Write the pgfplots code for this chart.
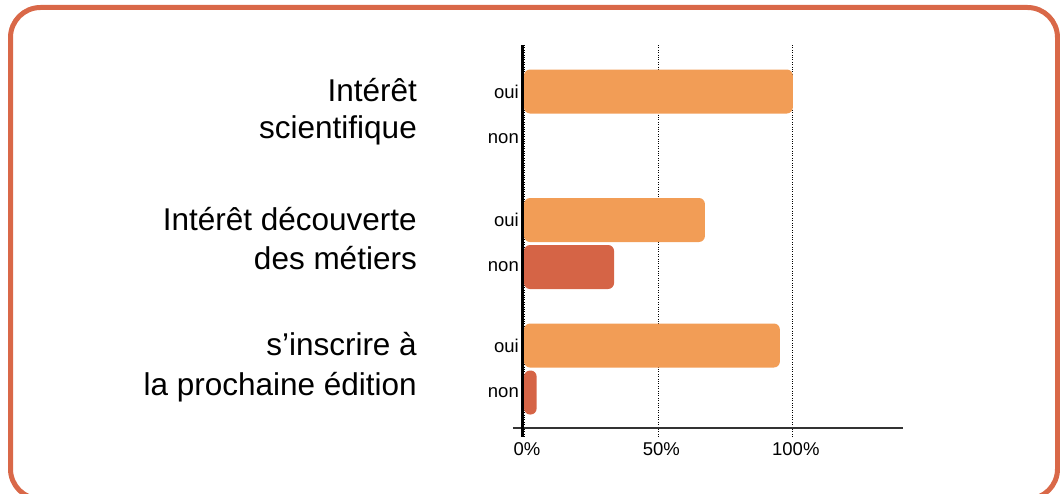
\documentclass[border=0pt]{standalone}
\usepackage{fontspec}
\setmainfont{Liberation Sans}
\usepackage{pgfplots}
\pgfplotsset{compat=1.18}
\definecolor{oui}{HTML}{F29D56}
\definecolor{non}{HTML}{D56446}
\definecolor{frame}{HTML}{D96848}
\begin{document}
\begin{tikzpicture}[x=1pt,y=1pt]
\useasboundingbox (0,0) rectangle (1060,493);
\draw[frame, line width=5pt, rounded corners=30pt] (10.5,485.5) rectangle (1057.5,-6);
\begin{axis}[
  at={(524pt,55pt)}, anchor=south west, scale only axis,
  width=379pt, height=393pt,
  xmin=0, xmax=141, ymin=45, ymax=438, y dir=reverse,
  axis line style={draw=none},
  xtick={0,50,100}, xticklabels={0\%,50\%,100\%},
  ytick={91.5,138.5,220,267,345.5,392.5},
  yticklabels={oui,non,oui,non,oui,non},
  major tick length=0pt,
  xmajorgrids, grid style={black, dotted, line width=0.9pt},
  tick label style={font=\fontsize{18.5}{21}\selectfont},
  yticklabel style={inner sep=0pt, xshift=-5pt},
  xticklabel style={inner sep=4pt, xshift=3pt},
  clip=false,
]
\addplot[xbar, bar width=44pt, bar shift=0pt, fill=oui, draw=none, rounded corners=6pt]
  coordinates {(100,91.5) (67.3,220) (95.2,345.5)};
\addplot[xbar, bar width=44pt, bar shift=0pt, fill=non, draw=none, rounded corners=6pt]
  coordinates {(33.5,267) (4.7,392.5)};
\draw[black!80, line width=1.5pt] (axis cs:-4.1,428) -- (axis cs:141,428);
\draw[black, line width=2.6pt] (axis cs:-0.45,45) -- (axis cs:-0.45,437);
\end{axis}
\begin{scope}[every node/.style={anchor=base east, inner sep=0pt, font=\fontsize{31.5}{36}\selectfont}]
\node at (417,493-102) {Intérêt};
\node at (417,493-139) {scientifique};
\node at (417,493-231) {Intérêt découverte};
\node at (417,493-270) {des métiers};
\node at (417,493-356) {s’inscrire à};
\node at (417,493-395) {la prochaine édition};
\end{scope}
\end{tikzpicture}
\end{document}
